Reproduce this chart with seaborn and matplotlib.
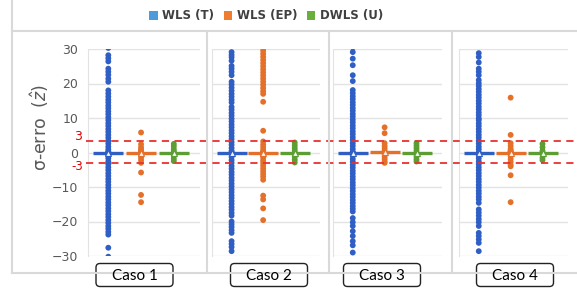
import matplotlib
matplotlib.use("Agg")
import matplotlib.pyplot as plt
from matplotlib.lines import Line2D
from matplotlib.patches import Patch, FancyBboxPatch
import matplotlib.transforms as mtransforms
import seaborn as sns
import pandas as pd

# dados (sigma-erro por caso e por estimador)
series = ["WLS (T)", "WLS (EP)", "DWLS (U)"]
casos = ["Caso 1", "Caso 2", "Caso 3", "Caso 4"]

blue1 = [30.3, 28.2, 27.3, 26.4, 24.3, 23.4, 22.5, 21.4, 20.5, 18.0, 17.1, 16.2, 15.3, 14.5,
         13.6, 12.8, 11.9, 11.1, 10.2, 9.4, 8.5, 7.7, 6.8, 6.0, 5.1, 4.3, 3.4, 2.6, 1.7, 0.9,
         0.3, 0.0, 0.0, -0.3, -0.9, -1.7, -2.6, -3.4, -4.3, -5.1, -6.0, -6.8, -7.7, -8.5, -9.4,
         -10.2, -11.1, -11.9, -12.8, -13.6, -14.5, -15.3, -16.2, -17.0, -17.9, -18.7, -19.6,
         -20.4, -21.3, -22.1, -23.0, -23.8, -27.6, -30.2]
orange1 = [5.8, 2.4, 1.5, 0.9, 0.4, 0.2, 0.1, 0.0, -0.7, -1.5, -2.2, -3.0, -5.8, -12.3, -14.4]
green1 = [2.5, 1.8, 1.0, 0.4, 0.0, -0.4, -1.0, -1.8, -2.5]

blue2 = [29.1, 28.3, 27.6, 26.6, 25.1, 24.3, 23.4, 22.4, 20.5, 19.7, 18.8, 17.9, 17.0, 16.2,
         15.3, 14.5, 13.2, 12.4, 11.5, 10.7, 9.8, 9.0, 8.1, 7.3, 6.4, 5.6, 4.7, 3.9, 3.0, 2.2,
         1.3, 0.5, 0.0, 0.0, -0.5, -1.3, -2.2, -3.0, -3.9, -4.7, -5.6, -6.4, -7.3, -8.1, -9.0,
         -9.8, -10.7, -11.5, -12.4, -13.2, -14.1, -14.9, -15.8, -16.6, -17.5, -18.3, -20.0,
         -20.8, -21.6, -22.5, -23.3, -25.7, -26.5, -27.4, -28.6]
orange2 = [30.4, 29.5, 28.6, 27.7, 26.8, 25.9, 25.0, 24.1, 23.2, 22.3, 21.4, 20.5, 19.6, 18.7,
           17.8, 17.0, 14.7, 6.3, 3.2, 2.3, 1.5, 0.7, 0.0, 0.0, 0.0, -0.1, -0.2, -0.3, -0.3,
           -0.4, -0.5, -0.7, -1.5, -2.3, -3.0, -3.8, -4.6, -5.4, -6.2, -7.0, -7.9, -12.5,
           -13.6, -16.2, -19.6]
green2 = [2.9, 2.1, 1.3, 0.6, 0.0, -0.6, -1.3, -2.1, -2.9]

blue3 = [30.5, 29.1, 27.2, 25.3, 22.4, 20.7, 18.1, 17.2, 16.3, 15.5, 14.6, 13.8, 12.9, 12.1,
         11.2, 10.4, 9.5, 8.7, 7.8, 7.0, 6.1, 5.3, 4.4, 3.6, 2.7, 1.9, 1.0, 0.2, 0.0, -0.2,
         -1.0, -1.9, -2.7, -3.6, -4.4, -5.3, -6.1, -7.0, -7.8, -8.7, -9.5, -10.4, -11.2, -12.1,
         -12.9, -13.8, -14.6, -15.5, -16.3, -17.1, -19.0, -20.2, -21.3, -22.8, -24.2, -25.7,
         -26.9, -29.0]
orange3 = [7.3, 5.6, 2.7, 1.9, 1.2, 0.5, 0.0, -0.5, -1.2, -1.9, -2.6, -3.0]
green3 = [2.7, 2.0, 1.3, 0.6, 0.0, -0.6, -1.3, -2.0, -2.6]

blue4 = [28.8, 27.7, 26.1, 24.3, 23.4, 22.4, 21.0, 20.1, 19.3, 18.4, 17.6, 16.7, 15.9, 15.0,
         14.2, 13.3, 12.5, 11.6, 10.8, 9.9, 9.4, 8.5, 7.7, 6.8, 6.0, 5.1, 4.3, 3.4, 2.6, 1.7,
         0.9, 0.0, -0.2, -0.4, -0.6, -0.9, -1.7, -2.6, -3.4, -4.3, -5.1, -6.0, -6.8, -7.7,
         -8.5, -9.4, -10.2, -11.1, -11.9, -12.8, -13.6, -14.6, -16.5, -17.4, -18.3, -19.3,
         -20.2, -21.3, -23.3, -24.2, -25.2, -26.2, -28.6]
orange4 = [15.9, 5.1, 2.7, 1.9, 1.1, 0.6, 0.4, 0.2, 0.0, -0.4, -1.1, -1.9, -2.7, -3.5, -4.0,
           -6.6, -14.4]
green4 = [2.5, 1.5, 0.5, 0.0, -0.5, -1.5, -2.2]

dados = [(blue1, orange1, green1), (blue2, orange2, green2),
         (blue3, orange3, green3), (blue4, orange4, green4)]

cores_pts = ["#2F5EC4", "#E4702A", "#5C9E34"]
cores_leg = ["#4E9BDB", "#EE7D31", "#6AAE3E"]
yticks = [-30, -20, -10, 0, 10, 20, 30]

W, H = 577, 289
fig = plt.figure(figsize=(W / 100, H / 100), dpi=100)
fig.patch.set_facecolor("white")

def fx(x):
    return x / W

def fy(y):
    return 1 - y / H

# camada em pixels para moldura, separadores e caixas dos casos
over = fig.add_axes([0, 0, 1, 1], zorder=10)
over.set_xlim(0, W)
over.set_ylim(H, 0)
over.axis("off")
over.patch.set_alpha(0)

# posições dos painéis em pixels (esquerda, direita)
paineis = [(88, 200), (212, 320), (333, 442), (459, 568)]
top, bot = 49, 256

axes = []
for i, ((x0, x1), trio) in enumerate(zip(paineis, dados)):
    ax = fig.add_axes([fx(x0), fy(bot), (x1 - x0) / W, (bot - top) / H])
    df = pd.DataFrame({
        "serie": sum([[s] * len(v) for s, v in zip(series, trio)], []),
        "valor": sum([list(v) for v in trio], []),
    })
    for t in yticks:
        ax.axhline(t, color="#E3E3E3", lw=1, zorder=0)
    sns.pointplot(data=df, x="serie", y="valor", hue="serie", order=series,
                  hue_order=series, palette=cores_pts, estimator="median",
                  errorbar=None, markers="_", markersize=21, markeredgewidth=2.4,
                  linestyle="none", legend=False, ax=ax, zorder=2)
    sns.stripplot(data=df, x="serie", y="valor", hue="serie", order=series,
                  hue_order=series, palette=cores_pts, jitter=False, size=4.2,
                  linewidth=0, legend=False, ax=ax, zorder=3)
    sns.pointplot(data=df, x="serie", y="valor", hue="serie", order=series,
                  hue_order=series, palette=cores_pts, estimator="median",
                  errorbar=None, markers="^", markersize=4, markeredgewidth=0.8,
                  markerfacecolor="#F2F2F2", linestyle="none", legend=False, ax=ax,
                  zorder=4)
    ax.set_ylim(-30, 30)
    ax.set_xlim(-0.62, 2.8)
    ax.set_yticks(yticks)
    ax.set_xticks([])
    ax.set_xlabel("")
    ax.set_ylabel("")
    for s in ["top", "right", "bottom"]:
        ax.spines[s].set_visible(False)
    ax.spines["left"].set_color("#E3E3E3")
    ax.tick_params(axis="y", length=0, pad=7, labelsize=9, labelcolor="#595959")
    if i > 0:
        ax.set_yticklabels([])
    axes.append(ax)

ax1 = axes[0]
# linhas tracejadas em +-3
trans = mtransforms.blended_transform_factory(fig.transFigure, ax1.transData)
for yv in [3.2, -3.0]:
    fig.add_artist(Line2D([fx(86), 1.0], [yv, yv], transform=trans, color="#E8312F",
                          lw=1.3, ls=(0, (4, 3)), zorder=5))
fig.text(fx(82), fy(136), "3", ha="right", va="center", fontsize=9, color="#E00000")
fig.text(fx(83), fy(167), "-3", ha="right", va="center", fontsize=8.5, color="#E00000")

# moldura e separadores
grid_c = "#D9D9D9"
over.plot([12, 12], [0, 273], color=grid_c, lw=1.5)
over.plot([12, W], [273, 273], color=grid_c, lw=1.5)
over.plot([12, W], [31, 31], color=grid_c, lw=1.5)
for xs in [207, 329, 452]:
    over.plot([xs, xs], [31, 273], color=grid_c, lw=1.5)

fig.text(fx(40), fy(127), "σ-erro  $(\\hat{z})$", rotation=90, ha="center", va="center",
         fontsize=12.5, color="#595959")

# rótulos dos casos
for caso, cx in zip(casos, [134.5, 269, 382, 515]):
    over.add_patch(FancyBboxPatch((cx - 38.5, 263.5), 77, 23,
                                  boxstyle="round,pad=0,rounding_size=4",
                                  fc="white", ec="#222222", lw=1))
    over.text(cx, 275.5, caso, ha="center", va="center", fontsize=11,
              color="black", family="Lato")

handles = [Patch(facecolor=c, edgecolor="none") for c in cores_leg]
fig.legend(handles, series, loc="center", bbox_to_anchor=(fx(266), fy(16)), ncol=3,
           frameon=False, handlelength=0.75, handleheight=0.75, handletextpad=0.35,
           columnspacing=0.8, prop={"size": 8.5, "weight": "bold"}, labelcolor="#404040")

fig.savefig("out.png", dpi=100)
